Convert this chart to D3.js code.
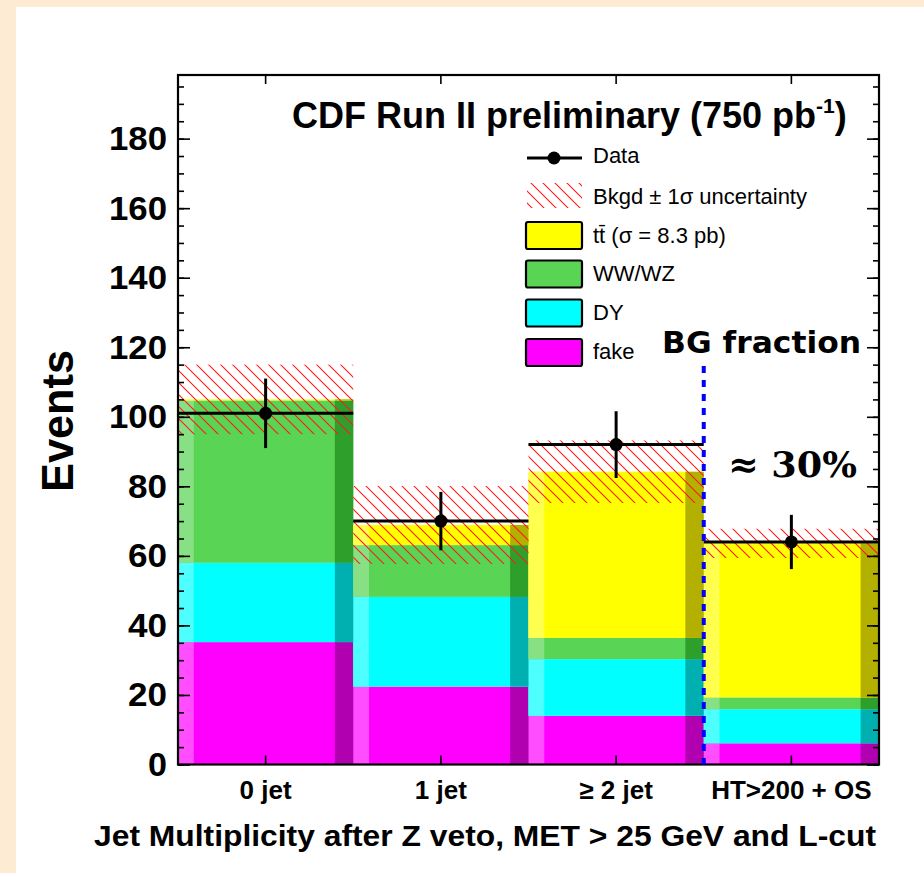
<!DOCTYPE html>
<html>
<head>
<meta charset="utf-8">
<script src="https://cdn.jsdelivr.net/npm/d3@7"></script>
<style>
  html, body { margin: 0; padding: 0; background: #fdebd3; }
  svg { display: block; }
</style>
</head>
<body>
<script>

/* Chart values */
var categories = ["0 jet", "1 jet", "\u2265 2 jet", "HT>200 + OS"];
var fake  = [35.2, 22.4, 14.0, 6.1];   // bottom of the stack
var dyBg  = [22.8, 25.8, 16.3, 9.8];
var wwwz  = [46.7, 14.9, 6.1, 3.4];
var ttbar = [0.3, 5.8, 47.8, 44.3];    // top of the stack
var bkgdErr  = [10.0, 11.2, 9.0, 4.2];  // +- 1 sigma band around the stack total
var dataVals = [101, 70, 92, 64];
var dataErr  = [10.0, 8.4, 9.6, 7.8];
var yMajor = [0, 20, 40, 60, 80, 100, 120, 140, 160, 180];
var yMinor = d3.range(0, 200, 5);

var seriesKeys = ["fake", "dy", "wwwz", "ttbar"];
var seriesColor = {
    fake:  { main: "#ff00ff", light: "#ff4dff", dark: "#b000b0" },
    dy:    { main: "#00ffff", light: "#4dffff", dark: "#00b0b0" },
    wwwz:  { main: "#59d454", light: "#88e085", dark: "#2f9f2c" },
    ttbar: { main: "#ffff00", light: "#ffff4d", dark: "#b3b000" }
};

var sans = "'Liberation Sans', Arial, sans-serif";

/* Build a table for d3.stack from the arrays */
var table = categories.map(function(c, i) {
    return { cat: c, fake: fake[i], dy: dyBg[i], wwwz: wwwz[i], ttbar: ttbar[i] };
});
var stacked = d3.stack().keys(seriesKeys)(table);

/* Width and height */
var width = 924,
    height = 873;

var svg = d3.select("body").append("svg")
    .attr("width", width)
    .attr("height", height)
    .style("font-family", sans);

/* white panel on the beige page */
svg.append("rect")
    .attr("x", 16).attr("y", 7)
    .attr("width", width - 16).attr("height", height - 7)
    .attr("fill", "#fff");

/* hatch pattern for the uncertainty band */
var defs = svg.append("defs");
defs.append("pattern")
    .attr("id", "hatch")
    .attr("patternUnits", "userSpaceOnUse")
    .attr("width", 12).attr("height", 12)
    .append("path")
    .attr("d", "M-3,-3L15,15M-3,9L3,15M9,-3L15,3")
    .attr("stroke", "#ff1a1a")
    .attr("stroke-width", 1.1);

/* Scales */
var x = d3.scaleBand()
    .domain(categories)
    .range([178, 879])
    .padding(0);

var y = d3.scaleLinear()
    .domain([0, 198.3])
    .range([764.5, 75]);

var bw = x.bandwidth();

/* Stacked bars with the ROOT style light / dark side strips */
var layers = svg.append("g").selectAll("g")
    .data(stacked)
    .enter().append("g");

layers.each(function(layer) {
    var col = seriesColor[layer.key];
    var g = d3.select(this);
    g.selectAll("rect.main")
        .data(layer)
        .enter().append("rect")
        .attr("x", function(d) { return x(d.data.cat); })
        .attr("y", function(d) { return y(d[1]); })
        .attr("width", bw)
        .attr("height", function(d) { return y(d[0]) - y(d[1]); })
        .attr("fill", col.main);
    g.selectAll("rect.light")
        .data(layer)
        .enter().append("rect")
        .attr("x", function(d) { return x(d.data.cat); })
        .attr("y", function(d) { return y(d[1]); })
        .attr("width", bw * 0.09)
        .attr("height", function(d) { return y(d[0]) - y(d[1]); })
        .attr("fill", col.light);
    g.selectAll("rect.dark")
        .data(layer)
        .enter().append("rect")
        .attr("x", function(d) { return x(d.data.cat) + bw * 0.895; })
        .attr("y", function(d) { return y(d[1]); })
        .attr("width", bw * 0.105)
        .attr("height", function(d) { return y(d[0]) - y(d[1]); })
        .attr("fill", col.dark);
});

/* Background uncertainty band */
var totals = stacked[stacked.length - 1].map(function(d) { return d[1]; });

svg.append("g").selectAll("rect")
    .data(categories)
    .enter().append("rect")
    .attr("x", function(d) { return x(d); })
    .attr("y", function(d, i) { return y(totals[i] + bkgdErr[i]); })
    .attr("width", bw)
    .attr("height", function(d, i) { return y(totals[i] - bkgdErr[i]) - y(totals[i] + bkgdErr[i]); })
    .attr("fill", "url(#hatch)");

/* Data: horizontal bin line, error bar, marker */
var dataG = svg.append("g");

dataG.selectAll("line.bin")
    .data(categories)
    .enter().append("line")
    .attr("x1", function(d) { return x(d); })
    .attr("x2", function(d) { return x(d) + bw; })
    .attr("y1", function(d, i) { return y(dataVals[i]); })
    .attr("y2", function(d, i) { return y(dataVals[i]); })
    .attr("stroke", "#000").attr("stroke-width", 3);

dataG.selectAll("line.err")
    .data(categories)
    .enter().append("line")
    .attr("x1", function(d) { return x(d) + bw / 2; })
    .attr("x2", function(d) { return x(d) + bw / 2; })
    .attr("y1", function(d, i) { return y(dataVals[i] + dataErr[i]); })
    .attr("y2", function(d, i) { return y(dataVals[i] - dataErr[i]); })
    .attr("stroke", "#000").attr("stroke-width", 3);

dataG.selectAll("circle")
    .data(categories)
    .enter().append("circle")
    .attr("cx", function(d) { return x(d) + bw / 2; })
    .attr("cy", function(d, i) { return y(dataVals[i]); })
    .attr("r", 6.5)
    .attr("fill", "#000");

/* Axes: ticks point into the frame */
var yAxisMinor = d3.axisLeft(y).tickValues(yMinor).tickSize(-6).tickFormat("");
var yAxisMajor = d3.axisLeft(y).tickValues(yMajor).tickSize(-12).tickPadding(11);
var yRightMinor = d3.axisRight(y).tickValues(yMinor).tickSize(-6).tickFormat("");
var yRightMajor = d3.axisRight(y).tickValues(yMajor).tickSize(-12).tickFormat("");

svg.append("g").attr("transform", "translate(178,0)").call(yAxisMinor);
var glm = svg.append("g").attr("transform", "translate(178,0)").call(yAxisMajor);
glm.selectAll("text")
    .style("font-family", sans)
    .style("font-size", "34px")
    .style("font-weight", "bold")
    .attr("textLength", function(d) { return d >= 100 ? 58 : (d > 0 ? 39 : 19); })
    .attr("lengthAdjust", "spacingAndGlyphs")
    .attr("fill", "#000");

svg.append("g").attr("transform", "translate(879,0)").call(yRightMinor);
svg.append("g").attr("transform", "translate(879,0)").call(yRightMajor);

var xAxis = d3.axisBottom(x).tickSize(-9).tickPadding(16);
var gx = svg.append("g").attr("transform", "translate(0,764.5)").call(xAxis);
gx.selectAll("text")
    .style("font-family", sans)
    .style("font-size", "26px")
    .style("font-weight", "bold")
    .attr("fill", "#000");

svg.append("g").attr("transform", "translate(0,75)")
    .call(d3.axisTop(x).tickSize(-9).tickFormat(""));

svg.selectAll(".domain").remove();
svg.selectAll(".tick line").attr("stroke", "#000").attr("stroke-width", 1.6);

/* Frame */
svg.append("rect")
    .attr("x", 178).attr("y", 75)
    .attr("width", 879 - 178).attr("height", 764.5 - 75)
    .attr("fill", "none")
    .attr("stroke", "#000").attr("stroke-width", 2.2);

/* Blue dashed line marking the last bin */
svg.append("line")
    .attr("x1", x(categories[3])).attr("x2", x(categories[3]))
    .attr("y1", 366).attr("y2", 764.5)
    .attr("stroke", "#0000ff")
    .attr("stroke-width", 4)
    .attr("stroke-dasharray", "7,7");

/* Title */
var title = svg.append("text")
    .attr("x", 292).attr("y", 128)
    .style("font-size", "36px")
    .style("font-weight", "bold")
    .attr("fill", "#000");
title.append("tspan").text("CDF Run II preliminary (750 pb");
title.append("tspan").style("font-size", "21px").attr("dy", -15).text("-1");
title.append("tspan").attr("dy", 15).text(")");

/* Legend */
var legend = svg.append("g");

legend.append("line")
    .attr("x1", 527).attr("x2", 582).attr("y1", 158).attr("y2", 158)
    .attr("stroke", "#000").attr("stroke-width", 3);
legend.append("circle")
    .attr("cx", 554).attr("cy", 158).attr("r", 6.5).attr("fill", "#000");
legend.append("rect")
    .attr("x", 527).attr("y", 183).attr("width", 55).attr("height", 25)
    .attr("fill", "url(#hatch)");

var legendBoxes = [
    { key: "ttbar", y: 222 },
    { key: "wwwz", y: 260.5 },
    { key: "dy", y: 299.5 },
    { key: "fake", y: 339 }
];
legend.selectAll("rect.box")
    .data(legendBoxes)
    .enter().append("rect")
    .attr("x", 526).attr("y", function(d) { return d.y; })
    .attr("width", 56).attr("height", 27)
    .attr("rx", 2)
    .attr("fill", function(d) { return seriesColor[d.key].main; })
    .attr("stroke", "#000").attr("stroke-width", 2.2);

var legendText = legend.append("g")
    .style("font-size", "22px")
    .attr("fill", "#000");
legendText.append("text").attr("x", 593).attr("y", 163).text("Data");
legendText.append("text").attr("x", 593).attr("y", 204).text("Bkgd \u00b1 1\u03c3 uncertainty");
legendText.append("text").attr("x", 593).attr("y", 243).text("tt\u0304 (\u03c3 = 8.3 pb)");
legendText.append("text").attr("x", 593).attr("y", 281).text("WW/WZ");
legendText.append("text").attr("x", 593).attr("y", 320).text("DY");
legendText.append("text").attr("x", 593).attr("y", 359).text("fake");

/* Annotation */
svg.append("text")
    .attr("x", 662).attr("y", 353)
    .style("font-family", "'DejaVu Sans', sans-serif")
    .style("font-size", "30px")
    .style("font-weight", "bold")
    .attr("textLength", 199)
    .attr("lengthAdjust", "spacingAndGlyphs")
    .attr("fill", "#000")
    .text("BG fraction");

svg.append("text")
    .attr("x", 728).attr("y", 477)
    .style("font-family", "'DejaVu Serif', serif")
    .style("font-size", "36px")
    .style("font-weight", "bold")
    .attr("textLength", 129)
    .attr("lengthAdjust", "spacingAndGlyphs")
    .attr("fill", "#000")
    .text("\u2248 30%");

/* Axis titles */
svg.append("text")
    .attr("transform", "translate(73,421) rotate(-90)")
    .attr("text-anchor", "middle")
    .style("font-size", "45px")
    .style("font-weight", "bold")
    .attr("textLength", 142)
    .attr("lengthAdjust", "spacingAndGlyphs")
    .attr("fill", "#000")
    .text("Events");

svg.append("text")
    .attr("x", 94).attr("y", 846)
    .style("font-size", "29px")
    .style("font-weight", "bold")
    .attr("textLength", 782)
    .attr("lengthAdjust", "spacingAndGlyphs")
    .attr("fill", "#000")
    .text("Jet Multiplicity after Z veto, MET > 25 GeV and L-cut");

</script>
</body>
</html>
